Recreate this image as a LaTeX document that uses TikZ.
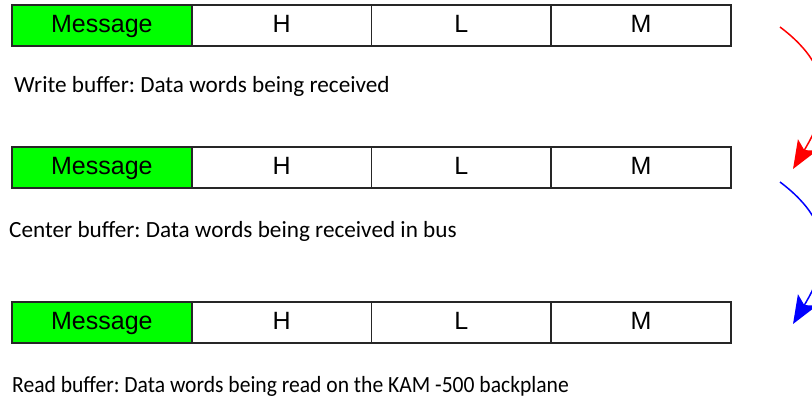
\documentclass[tikz,border=0pt]{standalone}
\usepackage{fontspec}
\setmainfont{Carlito}
\newfontfamily\cellfont{Liberation Sans}
\usetikzlibrary{positioning, arrows.meta}
\definecolor{msggreen}{RGB}{0,255,0}
\frenchspacing
\tikzset{
    my-cell/.style={
        draw=black!85, line width=1.6pt, minimum width=179.75pt, minimum height=41pt,
        inner sep=0pt, outer sep=0pt, text height=18pt, text depth=5pt,
        font=\cellfont\fontsize{25}{30}\selectfont
    },
    my-msg-cell/.style={
        my-cell, fill=msggreen
    },
    my-caption/.style={
        anchor=base west, inner sep=0pt, font=\fontsize{23.2}{28}\selectfont
    },
    my-flow/.style={
        line width=1.5pt, -{Stealth[length=28pt, width=22pt, inset=6pt]}
    },
}

\begin{document}
\begin{tikzpicture}[x=1pt, y=-1pt]

        \useasboundingbox (0,0) rectangle (812,400);
        \clip (0,0) rectangle (812,400);

        % WRITE BUFFER
        \node[my-msg-cell]  (MSGW)  at (101.875,25.5)    {Message};
        \node[my-cell, right=0pt of MSGW] (HW)  {H};
        \node[my-cell, right=0pt of HW]   (LW)  {L};
        \node[my-cell, right=0pt of LW]   (MW)  {M};
        \node[my-caption]   (CAPW)  at (14,92)   {Write buffer: Data words being received};

        % CENTER BUFFER
        \node[my-msg-cell]  (MSGC)  at (101.875,167.5)   {Message};
        \node[my-cell, right=0pt of MSGC] (HC)  {H};
        \node[my-cell, right=0pt of HC]   (LC)  {L};
        \node[my-cell, right=0pt of LC]   (MC)  {M};
        \node[my-caption]   (CAPC)  at (9,237)   {Center buffer: Data words being received in bus};

        % READ BUFFER
        \node[my-msg-cell]  (MSGR)  at (101.875,322.5)   {Message};
        \node[my-cell, right=0pt of MSGR] (HR)  {H};
        \node[my-cell, right=0pt of HR]   (LR)  {L};
        \node[my-cell, right=0pt of LR]   (MR)  {M};
        \node[my-caption, xscale=0.93] (CAPR)  at (12,392)  {Read buffer: Data words being read on the KAM -500 backplane};

        % FLOW ARROWS, END POINTS
        \coordinate (FLOW1IN)  at (780,27);
        \coordinate (FLOW1OUT) at (793,169);
        \coordinate (FLOW2IN)  at (780,182);
        \coordinate (FLOW2OUT) at (793,324);
        \draw[my-flow, red]  (FLOW1IN) .. controls (840,72) and (826,114) .. (FLOW1OUT);
        \draw[my-flow, blue] (FLOW2IN) .. controls (840,227) and (826,269) .. (FLOW2OUT);

    \end{tikzpicture}
\end{document}
